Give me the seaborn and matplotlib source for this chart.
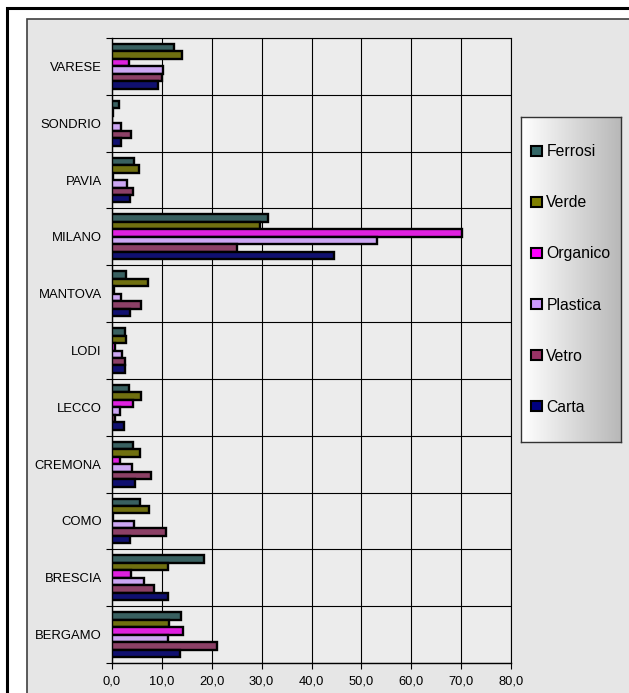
import matplotlib
matplotlib.use("Agg")
import matplotlib.pyplot as plt
import matplotlib.patches as mpatches
import numpy as np
import pandas as pd
import seaborn as sns

# data (values per province)
province = ['VARESE', 'SONDRIO', 'PAVIA', 'MILANO', 'MANTOVA', 'LODI',
            'LECCO', 'CREMONA', 'COMO', 'BRESCIA', 'BERGAMO']
ferrosi = [12.4, 1.4, 4.5, 31.3, 2.9, 2.7, 3.4, 4.2, 5.7, 18.5, 13.9]
verde = [14.0, 0.2, 5.5, 29.7, 7.2, 2.8, 5.8, 5.6, 7.5, 11.2, 11.5]
organico = [3.5, 0.0, 0.3, 70.2, 0.5, 0.7, 4.3, 1.6, 0.3, 3.9, 14.3]
plastica = [10.3, 1.8, 3.0, 53.2, 1.9, 2.1, 1.6, 4.1, 4.5, 6.5, 11.2]
vetro = [10.1, 3.9, 4.3, 25.0, 5.8, 2.7, 0.7, 7.8, 10.8, 8.5, 21.0]
carta = [9.3, 1.9, 3.6, 44.5, 3.7, 2.7, 2.4, 4.7, 3.7, 11.3, 13.7]

series = ['Ferrosi', 'Verde', 'Organico', 'Plastica', 'Vetro', 'Carta']
colors = ['#336666', '#808000', '#FF00FF', '#CC99FF', '#993366', '#000080']
x_ticks = [0, 10, 20, 30, 40, 50, 60, 70, 80]

# long format table for seaborn
values = [ferrosi, verde, organico, plastica, vetro, carta]
rows = []
for s, vals in zip(series, values):
    for p, v in zip(province, vals):
        rows.append({'provincia': p, 'tipo': s, 'valore': v})
df = pd.DataFrame(rows)

sns.set_style('white')
plt.rcParams['font.family'] = ['Liberation Sans', 'DejaVu Sans']
plt.rcParams['text.color'] = 'black'

W, H = 629, 693
fig = plt.figure(figsize=(W / 100, H / 100), dpi=100)
fig.patch.set_facecolor('white')

# outer black frame and grey chart area (cropped at right/bottom)
fig.patches.append(mpatches.Rectangle((7 / W, -0.1), 2, 1.1 - 8 / H,
                                      transform=fig.transFigure, facecolor='white',
                                      edgecolor='black', linewidth=2.2, zorder=-3))
fig.patches.append(mpatches.Rectangle((27 / W, -0.1), 2, 1.1 - 19 / H,
                                      transform=fig.transFigure, facecolor='#e6e6e6',
                                      edgecolor='#404040', linewidth=1.2, zorder=-2))

ax = fig.add_axes([112 / W, 1 - 663 / H, (511 - 112) / W, (663 - 38) / H])
ax.set_facecolor('#ececec')

sns.barplot(data=df, y='provincia', x='valore', hue='tipo', order=province,
            hue_order=series, palette=colors, orient='h', width=0.79,
            edgecolor='black', linewidth=1.7, ax=ax, legend=False, zorder=3)

ax.set_xlim(0, 80)
ax.set_ylim(len(province) - 0.5, -0.5)
ax.set_xlabel('')
ax.set_ylabel('')
ax.set_xticks(x_ticks)
ax.set_xticklabels([f'{t:.1f}'.replace('.', ',') for t in x_ticks], fontsize=9.3)
ax.tick_params(axis='x', direction='out', length=4, width=0.8, pad=5,
               colors='black', bottom=True)
ax.set_yticks(range(len(province)))
ax.set_yticklabels(province, fontsize=9.4)
ax.set_yticks(np.arange(-0.5, len(province), 1), minor=True)
ax.tick_params(axis='y', which='major', length=0, pad=7.5, colors='black')
ax.tick_params(axis='y', which='minor', direction='out', length=4, width=0.8,
               colors='black', left=True)
ax.grid(axis='x', which='major', color='black', linewidth=0.8, zorder=1)
ax.grid(axis='y', which='minor', color='black', linewidth=0.8, zorder=1)
ax.set_axisbelow(True)
for side in ['top', 'right']:
    ax.spines[side].set_color('black')
    ax.spines[side].set_linewidth(0.8)
for side in ['left', 'bottom']:
    ax.spines[side].set_color('black')
    ax.spines[side].set_linewidth(1.0)

# legend box with white-to-grey gradient
lx0, lx1, ly0, ly1 = 521, 621, 117, 442
lax = fig.add_axes([lx0 / W, 1 - ly1 / H, (lx1 - lx0) / W, (ly1 - ly0) / H])
grad = np.linspace(1.0, 0.72, 256).reshape(1, -1)
lax.imshow(grad, aspect='auto', cmap='gray', vmin=0, vmax=1, extent=[0, 1, 0, 1])
lax.set_xticks([])
lax.set_yticks([])
for sp in lax.spines.values():
    sp.set_visible(True)
    sp.set_color('#333333')
    sp.set_linewidth(1.0)

handles = [mpatches.Patch(facecolor=c, edgecolor='black', linewidth=1.5, label=s)
           for s, c in zip(series, colors)]
leg = fig.legend(handles=handles, loc='center',
                 bbox_to_anchor=(571 / W, 1 - 279.5 / H), bbox_transform=fig.transFigure,
                 frameon=False, fontsize=11.3, handlelength=0.65, handleheight=0.65,
                 handletextpad=0.3, labelspacing=2.3)
for t in leg.get_texts():
    t.set_color('black')

plt.savefig('out.png', dpi=100)
plt.close()
